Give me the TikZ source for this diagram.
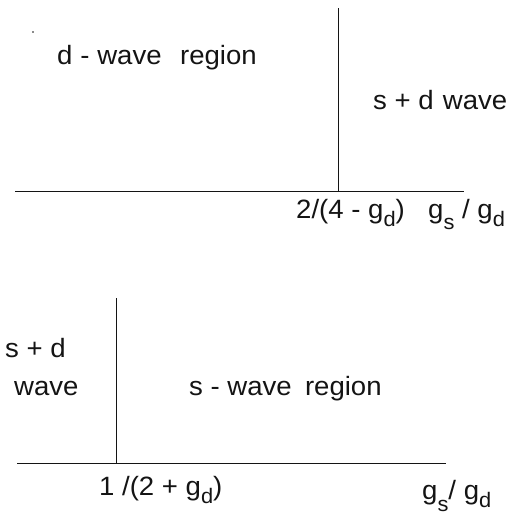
\documentclass[tikz,border=0pt]{standalone}
\usepackage{fontspec}
\setmainfont[FakeStretch=1.04]{Liberation Sans}
\usepackage{tikz}
\usetikzlibrary{positioning,calc}
\definecolor{lineColor}{RGB}{20,20,20}
\newcommand{\lowsub}[2][8pt]{\raisebox{-#1}{\fontsize{21}{21}\selectfont #2}}

\begin{document}
\begin{tikzpicture}[
  x=1pt, y=-1pt,
  font=\fontsize{26.5}{30}\selectfont,
  axis/.style={draw=lineColor, line width=0.9pt},
  label/.style={text=lineColor, inner sep=0pt, anchor=base west}
]
\useasboundingbox (0,0) rectangle (513,516);

% Upper diagram
\coordinate (ua) at (15,191);
\coordinate (ub) at (464,191);
\coordinate (uc) at (338,191);
\coordinate (ut) at (338,8);
\draw[axis] (ua) -- (ub);
\draw[axis] (uc) -- (ut);
\fill[lineColor] (33,32) circle (0.9);

\node[label] (dwave) at (57,65) {d\hspace{0.3em}- wave\hspace{0.7em}region};
\node[label] (sdwave) at (373,110) {s + d\hspace{0.35em}wave};
\node[label] (ucrit) at (296,218) {2/(4 - g\lowsub{d})};
\node[label] (uaxis) at (428,218) {g\lowsub[11pt]{s} / g\lowsub{d}};

% Lower diagram
\coordinate (la) at (17,463);
\coordinate (lb) at (446,463);
\coordinate (lc) at (116,463);
\coordinate (lt) at (116,298);
\draw[axis] (la) -- (lb);
\draw[axis] (lc) -- (lt);

\node[label] (sd) at (5,357) {s + d};
\node[label] (wave) at (14,395) {wave};
\node[label] (swave) at (189,395) {s - wave\hspace{0.5em}region};
\node[label] (lcrit) at (99,495) {1 /(2 + g\lowsub{d})};
\node[label] (laxis) at (422,499) {g\lowsub[12pt]{s}/ g\lowsub{d}};

\end{tikzpicture}
\end{document}
